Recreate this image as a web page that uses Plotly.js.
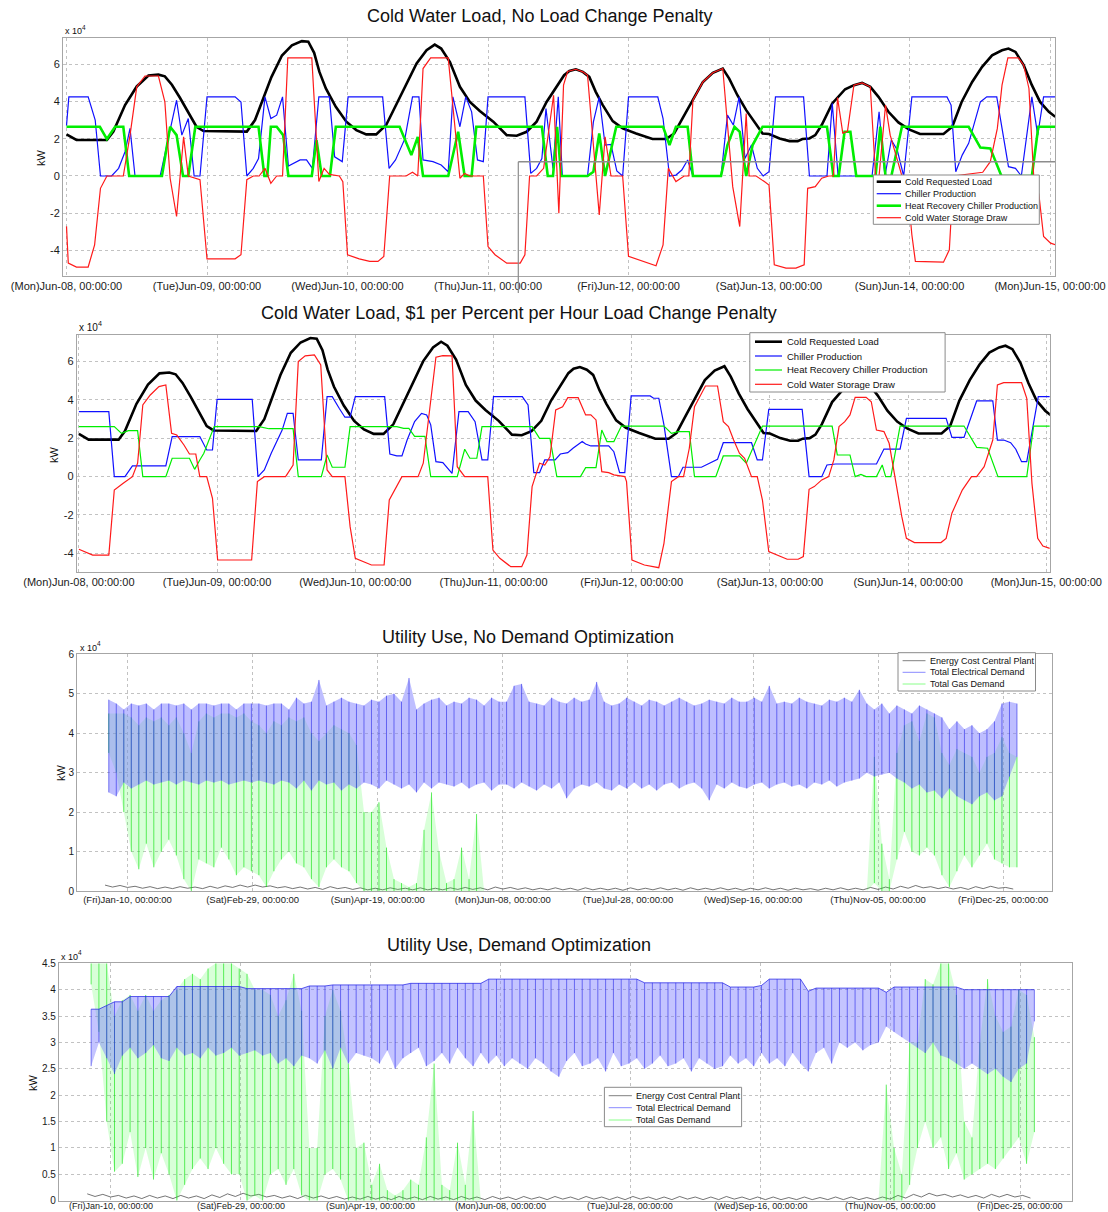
<!DOCTYPE html>
<html><head><meta charset="utf-8">
<script src="https://cdn.plot.ly/plotly-3.0.1.min.js"></script>
<style>html,body{margin:0;padding:0;background:#fff}#chart{width:1108px;height:1212px}</style>
</head><body><div id="chart"></div>
<script>
// ---------- tick labels ----------
const hourTicks = [0,24,48,72,96,120,144,168];
const hourTickLabels = ['(Mon)Jun-08, 00:00:00','(Tue)Jun-09, 00:00:00','(Wed)Jun-10, 00:00:00','(Thu)Jun-11, 00:00:00','(Fri)Jun-12, 00:00:00','(Sat)Jun-13, 00:00:00','(Sun)Jun-14, 00:00:00','(Mon)Jun-15, 00:00:00'];
const dayTicks = [10,60,110,160,210,260,310,360];
const dayTickLabels = ['(Fri)Jan-10, 00:00:00','(Sat)Feb-29, 00:00:00','(Sun)Apr-19, 00:00:00','(Mon)Jun-08, 00:00:00','(Tue)Jul-28, 00:00:00','(Wed)Sep-16, 00:00:00','(Thu)Nov-05, 00:00:00','(Fri)Dec-25, 00:00:00'];

// ---------- week data: [hour since Jun-08 00:00, kW x 1e4] ----------
const coldLoad = [[0,2.23],[1.7,1.93],[6.9,1.93],[8.0,2.38],[10.0,3.80],[12.0,4.80],[14.0,5.39],[15.7,5.43],[16.8,5.34],[18.0,4.89],[19.4,4.18],[20.8,3.38],[22.2,2.64],[23.4,2.41],[30.8,2.38],[32.2,3.00],[33.6,4.16],[35.0,5.30],[36.8,6.46],[38.5,7.00],[40.2,7.23],[41.3,7.20],[42.3,6.60],[43.2,5.58],[44.3,4.69],[46.0,3.71],[47.8,2.91],[49.5,2.46],[51.2,2.23],[52.9,2.23],[54.6,2.73],[56.3,3.80],[58.0,4.87],[59.8,6.03],[61.5,6.74],[62.9,7.04],[64.0,6.83],[65.5,6.11],[67.2,4.78],[68.9,3.97],[70.6,3.48],[72.9,2.91],[75.2,2.19],[76.9,2.16],[78.6,2.37],[80.3,2.91],[82.0,3.97],[83.8,4.87],[85.0,5.40],[85.9,5.63],[87.0,5.72],[88.2,5.58],[89.3,5.31],[90.4,4.51],[91.6,3.80],[93.3,2.94],[95.0,2.55],[97.3,2.28],[100.1,1.98],[102.4,1.98],[103.8,2.28],[105.2,3.08],[107.0,4.06],[108.7,5.04],[110.4,5.53],[112.1,5.76],[113.2,5.22],[114.6,4.33],[116.1,3.53],[117.8,2.73],[118.9,2.28],[120.0,2.25],[121.8,2.01],[123.5,1.87],[124.9,1.87],[125.7,1.98],[126.9,2.01],[127.9,2.19],[129.0,2.73],[130.8,3.89],[131.9,4.28],[133.0,4.65],[134.5,4.87],[135.9,4.99],[137.3,4.78],[138.7,4.24],[140.4,3.44],[142.1,2.87],[143.9,2.50],[145.8,2.25],[149.8,2.25],[151.3,2.64],[152.9,3.97],[154.7,5.04],[156.4,5.85],[158.1,6.47],[159.8,6.74],[160.9,6.83],[162.1,6.65],[163.5,5.94],[164.9,4.87],[166.3,3.97],[167.8,3.44],[168.9,3.17]];

const chiller1 = [[0,2.7],[0.4,4.24],[3.7,4.24],[4.9,3.0],[5.8,0],[7.7,0],[8.9,0.41],[10.0,1.30],[10.85,2.55],[11.7,0],[16.0,0],[17.1,1.66],[18.8,4.06],[19.7,2.19],[20.8,3.08],[21.8,0],[22.8,0],[24.0,4.24],[28.8,4.24],[29.8,3.97],[30.8,0],[31.9,0.41],[32.8,0.94],[33.9,4.24],[34.9,3.08],[35.9,3.26],[36.9,4.24],[37.9,0.53],[39.9,0.86],[41.0,0.86],[42.0,0.41],[43.1,4.24],[44.9,4.24],[45.8,1.03],[47.1,0.77],[48.1,4.24],[54.0,4.24],[55.1,0.41],[56.2,0.86],[57.8,2.0],[59.1,4.24],[60.2,4.24],[60.9,0.86],[62.6,0.77],[64.0,0.59],[65.2,0.23],[66.0,4.24],[67.2,2.64],[68.2,4.24],[69.2,3.44],[70.2,0.86],[71.2,0.77],[72.0,4.24],[78.3,4.24],[79.3,0.14],[80.3,0.41],[81.2,0.94],[81.9,3.62],[83.1,0.41],[84.0,4.24],[84.7,0],[89.0,0],[90.0,2.9],[91.0,4.24],[92.0,1.66],[93.0,1.69],[94.0,0.27],[95.0,0],[96.0,4.24],[101.0,4.24],[101.9,3.08],[103.0,0],[104.1,0.05],[105.1,0.32],[106.1,0.86],[107.0,0],[111.8,0],[112.9,3.26],[113.9,2.73],[114.9,4.24],[115.9,0.94],[117.0,1.66],[118.0,0.41],[119.0,0],[120.0,0.23],[121.1,4.24],[125.9,4.24],[126.9,0],[129.9,0],[130.8,3.89],[131.8,0],[137.6,0],[138.8,3.44],[139.8,0],[140.9,1.93],[141.9,1.39],[143.0,0],[144.4,4.24],[150.4,4.24],[151.1,3.8],[151.9,0.23],[153.0,1.12],[154.1,1.75],[156.1,3.97],[157.2,4.24],[158.9,4.24],[160.9,0.5],[162.1,0.41],[163.1,0],[164.9,4.24],[165.9,2.19],[166.9,4.24],[168.9,4.24]];

const hrc1 = [[0,2.64],[5.7,2.64],[6.9,1.98],[8.3,2.64],[9.7,2.64],[10.7,0],[16.3,0],[17.7,2.64],[18.8,2.19],[19.9,0],[20.8,0],[22.0,2.64],[32.8,2.64],[33.8,0],[34.3,0],[34.9,2.64],[35.9,2.64],[37.0,2.19],[37.9,0],[41.9,0],[42.7,1.93],[43.6,0],[45.0,0],[46.0,2.64],[56.9,2.64],[58.9,1.12],[60.0,2.1],[60.9,0],[65.2,0],[66.9,2.37],[68.0,0],[69.2,0],[70.0,2.64],[81.2,2.64],[82.2,0],[83.1,0],[83.8,2.64],[84.5,0],[89.0,0],[90.0,0.23],[91.0,2.28],[92.0,0],[93.9,2.64],[101.9,2.64],[103.0,1.66],[104.1,2.64],[106.1,2.64],[107.0,0],[111.8,0],[112.9,1.66],[114.1,2.64],[115.0,2.37],[116.1,0],[117.2,1.66],[118.9,2.64],[129.9,2.64],[131.0,0],[131.9,0],[132.9,2.37],[133.9,2.37],[134.9,0],[138.2,0],[139.0,2.64],[139.9,0],[140.9,0],[142.7,2.64],[154.1,2.64],[156.1,1.52],[157.8,1.48],[159.7,0],[164.9,0],[166.0,2.64],[168.9,2.64]];

const storage1 = [[0,-2.7],[0.3,-4.67],[1.7,-4.88],[3.7,-4.88],[4.8,-3.69],[5.8,-0.66],[6.9,0],[9.7,0],[10.85,2.19],[12.0,4.78],[13.4,5.36],[15.7,5.36],[16.8,3.97],[17.7,-0.12],[18.8,-2.17],[20.0,2.1],[20.8,0],[22.8,-0.2],[24.0,-4.44],[28.8,-4.44],[29.8,-4.22],[30.8,-0.2],[31.9,0],[32.9,0],[33.9,0.41],[34.9,-0.39],[35.9,0],[36.9,0],[37.8,6.33],[41.9,6.33],[43.1,-0.3],[44.0,0.41],[44.9,0.09],[46.6,0],[47.2,-0.3],[48.0,-4.22],[50.0,-4.44],[51.8,-4.58],[53.2,-4.58],[54.2,-4.31],[55.2,0],[58.0,0],[59.1,0.2],[60.0,0],[60.9,5.76],[62.2,6.33],[65.2,6.33],[66.0,3.71],[67.2,-0.12],[68.0,0.14],[68.9,0],[71.2,0],[72.0,-3.78],[73.2,-4.22],[75.2,-4.67],[77.5,-4.67],[78.3,-4.22],[79.1,0],[80.3,0],[81.5,0.41],[83.2,4.33],[84.1,-2.0],[84.9,4.87],[85.6,5.6],[87.0,5.72],[88.2,5.58],[89.0,5.4],[91.0,-2.09],[92.0,2.1],[93.0,0],[95.0,0],[96.0,-4.31],[98.4,-4.58],[100.7,-4.81],[101.9,-3.69],[102.8,0.41],[104.1,-0.3],[105.5,0],[106.3,0],[107.0,4.06],[108.7,5.04],[110.4,5.53],[112.1,5.76],[112.9,2.55],[113.8,-0.57],[115.0,-2.71],[116.1,3.35],[116.6,0],[117.8,0],[119.2,-0.3],[120.0,-0.48],[120.9,-4.76],[122.9,-4.94],[124.6,-4.94],[126.0,-4.76],[126.6,-0.66],[127.9,-0.57],[129.0,-0.12],[130.2,0],[131.0,0],[131.7,4.2],[132.6,2.3],[133.4,2.4],[134.5,4.87],[135.9,4.99],[137.3,4.78],[138.2,0],[138.8,0],[139.9,3.8],[140.7,2.19],[142.7,0],[143.5,0],[144.4,-3.15],[145.0,-4.58],[149.8,-4.62],[150.8,-3.96],[151.5,0],[156.5,0.2],[157.8,0.77],[159.0,2.55],[159.8,4.87],[160.8,6.33],[162.6,6.33],[163.5,5.94],[164.4,4.69],[165.2,0.05],[166.1,-1.0],[166.9,-3.24],[168.1,-3.6],[168.9,-3.69]];

const chiller2 = [[0,3.39],[5.2,3.39],[6.15,0],[8.0,0],[9.3,0.56],[15.1,0.56],[16.2,2.09],[21.0,2.09],[22.2,1.39],[23.2,1.39],[24.0,4.03],[30.1,4.03],[31.1,0],[32.2,0.35],[33.4,1.22],[35.3,2.43],[36.2,3.30],[37.2,3.30],[38.1,0.87],[42.1,0.87],[43.1,4.17],[44.0,4.17],[45.2,3.57],[46.2,3.10],[47.1,3.10],[48.0,4.17],[53.1,4.17],[54.0,1.18],[55.2,1.08],[56.1,1.08],[57.0,1.91],[58.3,2.87],[59.5,3.30],[60.4,3.22],[61.1,2.70],[62.0,0.78],[63.2,0.73],[64.8,0.17],[66.0,3.39],[67.6,3.39],[68.8,2.87],[70.0,0.87],[71.0,0.87],[72.0,4.17],[77.0,4.17],[78.0,3.74],[79.0,0.21],[80.0,0.21],[80.9,0.87],[82.7,0.87],[83.6,1.18],[84.9,1.25],[85.8,1.48],[87.4,1.83],[88.0,1.70],[88.9,1.60],[92.0,1.60],[92.9,1.30],[93.9,0.21],[94.8,0.21],[95.9,4.21],[99.2,4.21],[99.8,4.09],[100.7,4.09],[101.6,2.70],[102.9,0],[104.1,0],[104.9,0.49],[108.1,0.49],[110.3,0.83],[110.9,0.90],[111.9,1.77],[116.8,1.77],[117.8,0.87],[118.7,0.87],[119.8,3.51],[125.6,3.51],[126.8,0],[129.0,0],[129.9,0.61],[131.4,0.66],[138.5,0.66],[139.8,1.44],[142.6,1.44],[143.7,3.04],[150.6,3.04],[151.6,2.05],[153.7,2.05],[155.9,3.95],[158.7,3.95],[159.5,1.91],[160.6,1.91],[161.8,1.77],[162.7,1.43],[163.7,0.78],[164.6,0.78],[165.7,2.61],[166.6,4.17],[168.6,4.17]];

const hrc2 = [[0,2.61],[6.15,2.61],[7.4,2.26],[8.6,2.40],[10.2,2.40],[11.1,0],[15.1,0],[16.2,0.96],[19.2,0.96],[20.1,0.38],[21.0,0.87],[21.7,1.22],[23.5,2.61],[31.3,2.61],[33.0,2.50],[37.2,2.50],[38.1,0],[42.1,0],[43.1,1.13],[44.0,0.49],[46.2,0.49],[47.1,2.61],[55.2,2.61],[56.4,2.52],[57.3,2.52],[58.3,2.10],[60.1,2.10],[61.1,0],[65.7,0],[67.0,1.43],[67.9,0.96],[69.1,0.96],[70.0,2.61],[78.7,2.61],[80.0,2.0],[81.8,2.0],[83.0,0],[87.1,0],[88.0,0.47],[89.8,0.47],[90.8,2.43],[91.7,1.83],[92.9,1.83],[94.2,2.64],[101.6,2.64],[102.9,2.26],[104.1,2.35],[106.0,2.35],[106.9,0],[110.6,0],[111.9,1.08],[114.7,1.08],[115.9,0.70],[117.1,1.57],[118.7,2.64],[130.8,2.64],[131.7,1.13],[133.9,1.13],[134.8,0],[135.8,0.12],[136.7,0],[138.5,0],[139.5,0.61],[140.1,0],[141.0,0],[142.6,2.64],[153.7,2.64],[155.9,1.53],[157.8,1.48],[159.6,0],[164.6,0],[165.8,2.64],[168.6,2.64]];

const storage2 = [[0,-3.79],[2.4,-4.09],[5.2,-4.09],[6.15,-0.70],[7.7,-0.35],[9.3,0],[10.2,0.70],[11.1,3.74],[12.4,4.26],[13.9,4.70],[15.1,4.78],[16.1,2.26],[17.0,2.17],[18.25,1.65],[19.2,1.18],[20.3,1.18],[21.0,0],[22.2,0],[23.2,-1.13],[24.1,-4.35],[30.0,-4.35],[31.0,-0.26],[32.2,0],[35.9,0],[37.2,0.61],[38.1,6.0],[39.3,6.30],[40.9,6.35],[42.0,5.83],[43.1,0.35],[44.0,0],[46.2,0],[47.1,-2.61],[48.0,-4.26],[50.8,-4.61],[53.0,-4.61],[53.9,-1.22],[55.2,-0.52],[56.1,0],[58.9,0],[59.8,0.70],[62.0,6.23],[63.2,6.31],[64.8,6.30],[65.7,0.52],[67.0,0],[71.0,0],[71.9,-3.83],[73.1,-4.26],[75.0,-4.70],[76.9,-4.70],[77.8,-4.09],[78.7,-0.52],[80.0,0.70],[80.9,0.61],[81.8,1.04],[82.8,3.48],[84.0,3.65],[84.9,4.12],[86.7,4.12],[88.0,3.22],[88.9,3.22],[89.8,2.96],[90.8,0.26],[92.0,0.21],[92.9,0.09],[94.8,0],[95.1,-0.26],[96.05,-4.35],[98.2,-4.61],[100.7,-4.75],[101.6,-3.48],[102.9,-0.26],[104.1,0],[105.0,0],[106.0,1.48],[106.9,3.65],[108.8,4.73],[110.9,4.73],[111.9,2.87],[112.8,2.61],[113.7,1.91],[114.7,1.22],[115.6,0.96],[116.8,0],[117.8,0],[118.7,-1.22],[119.8,-3.91],[123.0,-4.31],[124.9,-4.31],[125.8,-4.17],[126.8,-0.66],[127.7,-0.52],[129.0,-0.17],[130.2,0],[131.1,0.87],[132.0,2.61],[133.0,2.87],[133.9,3.22],[134.8,4.14],[136.7,4.14],[137.6,3.91],[138.5,2.43],[139.8,2.35],[140.7,1.74],[142.0,-0.52],[142.9,-2.09],[143.7,-3.22],[145.1,-3.44],[149.7,-3.44],[150.6,-3.22],[151.6,-1.91],[153.4,-0.70],[155.0,0],[155.9,0],[157.2,0.52],[158.1,1.30],[158.7,1.91],[159.5,4.78],[160.6,4.90],[163.7,4.90],[164.6,4.09],[165.5,-0.35],[166.5,-3.22],[167.4,-3.62],[168.6,-3.74]];

// ---------- year data: 3-day bins (max, min) starting day 1, kW x 1e4 ----------
const elec3Hi = [4.85,4.75,4.6,4.75,4.7,4.75,4.6,4.75,4.75,4.7, 4.75,4.6,4.75,4.75,4.7,4.75,4.75,4.6,4.75,4.75, 4.75,4.7,4.75,4.75,4.6,4.9,4.75,4.8,5.35,4.7, 4.8,4.9,4.8,4.75,4.7,4.85,4.8,4.95,5.0,4.8, 5.4,4.6,4.75,4.85,4.9,4.7,4.8,4.75,4.9,4.85, 4.7,4.9,4.8,4.8,5.2,5.25,4.8,4.75,4.7,4.9, 4.8,4.75,4.9,4.8,4.85,5.3,4.8,4.7,4.75,4.9, 4.8,4.7,4.85,4.8,4.7,4.8,4.9,4.8,4.7,4.75, 4.85,4.8,4.75,4.9,4.8,4.8,4.9,4.8,5.2,4.75, 4.8,4.75,4.9,4.8,4.75,4.7,4.85,4.8,4.9,4.8, 5.1,4.75,4.6,4.75,4.5,4.7,4.6,4.5,4.7,4.6, 4.5,4.4,4.1,4.3,4.1,4.2,4.0,4.1,4.3,4.75,4.8,4.75];
const elec3Lo = [2.5,2.4,2.75,2.6,2.7,2.8,2.7,2.75,2.8,2.7, 2.8,2.75,2.7,2.8,2.75,2.8,2.7,2.75,2.8,2.75, 2.8,2.75,2.7,2.8,2.75,2.6,2.8,2.55,2.8,2.7, 2.75,2.55,2.7,2.6,2.75,2.7,2.6,2.8,2.7,2.6, 2.7,2.5,2.75,2.6,2.75,2.7,2.65,2.75,2.6,2.7, 2.75,2.55,2.7,2.7,2.6,2.75,2.65,2.55,2.7,2.6, 2.75,2.35,2.6,2.7,2.65,2.75,2.6,2.55,2.7,2.6, 2.75,2.6,2.7,2.55,2.7,2.75,2.6,2.7,2.75,2.6, 2.3,2.7,2.6,2.75,2.65,2.6,2.7,2.75,2.6,2.7, 2.75,2.65,2.7,2.6,2.75,2.7,2.8,2.65,2.75,2.8, 2.85,3.0,2.9,2.95,3.0,2.85,2.75,2.6,2.7,2.5, 2.55,2.35,2.6,2.4,2.3,2.2,2.4,2.5,2.3,2.4,2.9,3.4];
const gas3Hi = [4.5,4.5,4.5,4.4,4.2,4.4,4.3,4.4,4.2,4.4, 4.0,3.5,4.3,4.5,4.4,4.5,4.5,4.4,4.5,4.3, 4.2,4.0,4.3,4.2,4.4,4.3,4.4,4.0,3.8,4.0, 4.2,4.1,4.0,3.7,2.0,2.0,2.25,1.1,0.3,0.2, 0.1,0.2,1.55,2.5,1.0,0.2,0.3,1.1,0.3,1.95, 0,0,0,0,0,0,0,0,0,0, 0,0,0,0,0,0,0,0,0,0, 0,0,0,0,0,0,0,0,0,0, 0,0,0,0,0,0,0,0,0,0, 0,0,0,0,0,0,0,0,0,0, 0,0,3.4,1.2,0.3,3.5,4.2,4.3,3.8,4.5, 4.4,3.5,3.2,3.6,3.5,3.4,3.0,3.4,3.5,3.9,3.5,3.4];
const gas3Lo = [3.5,3.0,2.0,1.0,0.55,1.2,0.6,1.0,1.3,0.9, 0.3,0.0,0.8,0.7,0.6,1.1,0.8,0.4,0.6,0.5, 0.4,0.1,0.5,0.8,1.0,0.7,0.6,0.3,0.1,0.6, 0.8,0.6,0.5,0.2,0,0,0,0,0,0, 0,0,0,0,0,0,0,0,0,0, 0,0,0,0,0,0,0,0,0,0, 0,0,0,0,0,0,0,0,0,0, 0,0,0,0,0,0,0,0,0,0, 0,0,0,0,0,0,0,0,0,0, 0,0,0,0,0,0,0,0,0,0, 0,0,0.2,0,0,0.8,1.5,1.0,0.9,1.1, 0.9,0.4,0.1,0.5,0.9,0.6,0.9,1.2,0.8,0.7,0.6,0.6];
const elec4Hi = [3.63,3.63,3.7,3.77,3.77,3.87,3.87,3.87,3.87,3.87, 3.87,4.06,4.06,4.06,4.06,4.06,4.06,4.06,4.06,4.06, 4.02,4.02,4.02,4.02,4.02,4.02,4.02,4.02,4.07,4.07, 4.07,4.09,4.09,4.09,4.09,4.09,4.09,4.09,4.09,4.09, 4.09,4.12,4.12,4.12,4.12,4.12,4.12,4.12,4.12,4.12, 4.12,4.2,4.2,4.2,4.2,4.2,4.2,4.2,4.2,4.2, 4.2,4.2,4.2,4.2,4.2,4.2,4.2,4.2,4.2,4.2, 4.2,4.13,4.13,4.13,4.13,4.13,4.13,4.13,4.13,4.13, 4.13,4.13,4.05,4.05,4.05,4.05,4.08,4.2,4.2,4.2, 4.2,4.2,3.97,4.03,4.03,4.03,4.03,4.03,4.03,4.03, 4.03,4.03,3.95,4.05,4.05,4.05,4.05,4.05,4.05,4.05, 4.05,4.05,4.0,4.0,4.0,4.0,4.0,4.0,4.0,4.0,4.0,4.0];
const elec4Lo = [2.55,3.0,2.7,2.4,2.75,2.9,2.7,2.8,2.95,2.7, 2.65,2.9,2.75,2.8,2.7,2.9,2.75,2.8,2.9,2.75, 2.8,2.85,2.75,2.8,2.6,2.7,2.55,2.75,2.7,2.6, 2.85,2.5,2.9,2.6,2.8,2.75,2.7,2.6,2.85,2.5, 2.7,2.8,2.9,2.55,2.65,2.8,2.6,2.9,2.7,2.55, 2.8,2.6,2.75,2.55,2.7,2.6,2.5,2.7,2.6,2.45, 2.35,2.65,2.8,2.55,2.6,2.7,2.45,2.8,2.55,2.6, 2.7,2.5,2.6,2.75,2.55,2.6,2.7,2.45,2.7,2.6, 2.5,2.55,2.75,2.6,2.7,2.55,2.8,2.6,2.7,2.55, 2.8,2.6,2.45,2.8,2.9,2.6,3.0,2.9,3.0,2.85, 2.95,3.0,3.3,3.2,3.1,3.0,2.9,2.8,3.0,2.75, 2.7,2.6,2.5,2.6,2.5,2.4,2.5,2.35,2.25,2.5,2.6,3.4];
const gas4Hi = [4.5,4.5,4.5,3.5,3.8,3.9,3.6,3.9,3.6,3.8, 3.9,4.0,4.2,4.3,4.2,4.4,4.5,4.5,4.5,4.4, 4.3,4.0,4.0,3.9,3.5,3.8,4.3,3.6,1.0,1.0, 3.5,4.0,3.6,2.6,1.0,1.1,0.3,0.7,0.2,0.1, 0.2,0.4,0.3,1.2,2.6,0.3,0.2,1.1,0.3,1.7, 0,0,0,0,0,0,0,0,0,0, 0,0,0,0,0,0,0,0,0,0, 0,0,0,0,0,0,0,0,0,0, 0,0,0,0,0,0,0,0,0,0, 0,0,0,0,0,0,0,0,0,0, 0,0,2.2,1.0,0.5,3.0,3.0,4.2,4.1,4.5, 4.5,3.9,1.5,1.2,3.0,4.2,3.5,3.2,3.3,4.0,3.9,3.1];
const gas4Lo = [4.1,3.2,1.5,0.55,0.7,1.3,0.45,1.0,0.4,0.9, 0.5,0.0,0.3,0.6,0.8,0.6,1.0,0.7,0.5,0.5, 0.0,0.1,0.0,0.5,0.6,0.3,0.6,0.1,0,0, 0.5,0.6,0.4,0,0,0,0,0,0,0, 0,0,0,0,0,0,0,0,0,0, 0,0,0,0,0,0,0,0,0,0, 0,0,0,0,0,0,0,0,0,0, 0,0,0,0,0,0,0,0,0,0, 0,0,0,0,0,0,0,0,0,0, 0,0,0,0,0,0,0,0,0,0, 0,0,0,0,0,0.3,1.0,1.5,1.0,1.2, 0.6,0.9,0.4,0.5,0.6,0.7,0.6,0.8,1.0,1.2,0.7,1.3];
// energy cost: 6-day bins (max, min)
const cost3Hi = [0.15,0.14,0.12,0.11,0.10,0.11,0.10,0.12,0.13,0.15, 0.15,0.13,0.11,0.10,0.09,0.11,0.09,0.08,0.07,0.08, 0.07,0.08,0.07,0.08,0.09,0.08,0.10,0.09,0.08,0.07, 0.08,0.07,0.08,0.07,0.07,0.08,0.07,0.08,0.07,0.08, 0.07,0.08,0.07,0.07,0.08,0.07,0.07,0.06,0.07,0.08, 0.07,0.09,0.10,0.12,0.14,0.11,0.10,0.09,0.11,0.12,0.09];
const cost3Lo = [0.10,0.09,0.07,0.06,0.06,0.07,0.06,0.07,0.09,0.10, 0.10,0.08,0.06,0.05,0.04,0.06,0.04,0.03,0.03,0.04, 0.03,0.03,0.03,0.04,0.04,0.03,0.05,0.04,0.03,0.03, 0.03,0.02,0.03,0.03,0.02,0.03,0.03,0.03,0.02,0.03, 0.03,0.03,0.02,0.03,0.03,0.02,0.03,0.02,0.03,0.03, 0.03,0.04,0.05,0.07,0.08,0.06,0.05,0.04,0.06,0.07,0.05];
const cost4Hi = [0.13,0.12,0.10,0.09,0.10,0.09,0.10,0.09,0.11,0.13, 0.14,0.12,0.10,0.09,0.10,0.09,0.08,0.07,0.08,0.07, 0.08,0.07,0.08,0.07,0.08,0.07,0.08,0.07,0.08,0.07, 0.08,0.07,0.08,0.07,0.07,0.08,0.07,0.07,0.08,0.07, 0.07,0.08,0.07,0.07,0.07,0.06,0.07,0.06,0.07,0.07, 0.06,0.07,0.10,0.12,0.14,0.12,0.11,0.10,0.12,0.12,0.10];
const cost4Lo = [0.08,0.07,0.05,0.04,0.05,0.04,0.05,0.04,0.06,0.08, 0.09,0.07,0.05,0.04,0.05,0.04,0.03,0.03,0.03,0.02, 0.03,0.02,0.03,0.02,0.03,0.02,0.03,0.02,0.03,0.02, 0.03,0.02,0.03,0.02,0.02,0.03,0.02,0.02,0.03,0.02, 0.02,0.03,0.02,0.02,0.02,0.02,0.02,0.02,0.02,0.02, 0.02,0.03,0.05,0.07,0.09,0.07,0.06,0.05,0.07,0.07,0.05];

// ---------- helpers ----------
const W = 1108, H = 1212;
const px = x => x / W, py = y => 1 - y / H;
const FONT = 'Liberation Sans, Arial, Helvetica, sans-serif';
const C = {black:'#000000', blue:'#1010ff', green:'#00ee00', red:'#ff1a1a'};

function lineTrace(pairs, xa, ya, color, width, name){
  return {x: pairs.map(p=>p[0]), y: pairs.map(p=>p[1]), xaxis:xa, yaxis:ya, mode:'lines', name:name,
          line:{color:color, width:width}, hoverinfo:'skip'};
}
// hourly values summarised per bin: light fill between min and max, plus a vertical stroke per bin
function bandTraces(hi, lo, step, xa, ya, o){
  const c = hi.map((_,k)=>1+step*k+step/2);
  const t = [];
  t.push({x:c, y:lo, xaxis:xa, yaxis:ya, mode:'lines', line:{width:0, color:o.fill}, hoverinfo:'skip'});
  t.push({x:c, y:hi, xaxis:xa, yaxis:ya, mode:'lines', fill:'tonexty', fillcolor:o.fill,
          line:{width:o.edgeWidth||0, color:o.edge||o.fill}, hoverinfo:'skip'});
  const sx = [], sy = [];
  c.forEach((d,k)=>{ sx.push(d, d, null); sy.push(hi[k], lo[k], null); });
  t.push({x:sx, y:sy, xaxis:xa, yaxis:ya, mode:'lines', name:o.name, connectgaps:false,
          line:{width:o.width, color:o.color}, hoverinfo:'skip'});
  return t;
}
function zigTrace(hi, lo, step, xa, ya, color, width, name){
  const zx = [], zy = [];
  hi.forEach((v,k)=>{ const d = 1+step*k; zx.push(d, d+step/2); zy.push(v, lo[k]); });
  return {x:zx, y:zy, xaxis:xa, yaxis:ya, mode:'lines', name:name, line:{width:width, color:color}, hoverinfo:'skip'};
}

const traces = [
  lineTrace(coldLoad,'x','y',C.black,2.6,'Cold Requested Load'),
  lineTrace(chiller1,'x','y',C.blue,1.2,'Chiller Production'),
  lineTrace(hrc1,'x','y',C.green,2.6,'Heat Recovery Chiller Production'),
  lineTrace(storage1,'x','y',C.red,1.2,'Cold Water Storage Draw'),
  lineTrace(coldLoad,'x2','y2',C.black,2.6,'Cold Requested Load'),
  lineTrace(chiller2,'x2','y2',C.blue,1.2,'Chiller Production'),
  lineTrace(hrc2,'x2','y2',C.green,1.2,'Heat Recovery Chiller Production'),
  lineTrace(storage2,'x2','y2',C.red,1.2,'Cold Water Storage Draw'),
  zigTrace(cost3Hi,cost3Lo,6,'x3','y3','rgba(50,50,50,0.85)',0.8,'Energy Cost Central Plant'),
  ...bandTraces(gas3Hi,gas3Lo,3,'x3','y3',{fill:'rgba(60,255,60,0.20)',color:'rgba(0,225,0,0.6)',width:1,name:'Total Gas Demand'}),
  ...bandTraces(elec3Hi,elec3Lo,3,'x3','y3',{fill:'rgba(125,125,255,0.50)',color:'rgba(25,25,230,0.55)',width:1,name:'Total Electrical Demand'}),
  zigTrace(cost4Hi,cost4Lo,6,'x4','y4','rgba(50,50,50,0.85)',0.8,'Energy Cost Central Plant'),
  ...bandTraces(gas4Hi,gas4Lo,3,'x4','y4',{fill:'rgba(60,255,60,0.20)',color:'rgba(0,225,0,0.6)',width:1,name:'Total Gas Demand'}),
  ...bandTraces(elec4Hi,elec4Lo,3,'x4','y4',{fill:'rgba(125,125,255,0.45)',edge:'rgba(40,40,230,0.85)',edgeWidth:0.9,color:'rgba(25,25,230,0.55)',width:1,name:'Total Electrical Demand'})
];

function axis(d, range, vals, text, size, anchor, showLabels){
  return {domain:d, range:range, anchor:anchor, tickmode:'array', tickvals:vals, ticktext:text,
    showticklabels: showLabels !== false,
    showline:true, mirror:true, linecolor:'#a6a6a6', linewidth:1, showgrid:true, gridcolor:'#c2c2c2', griddash:'dot',
    zeroline:false, ticks:'', tickfont:{family:FONT,size:size,color:'#1a1a1a'}, fixedrange:true};
}
const wkY = [-4,-2,0,2,4,6], wkYT = ['-4','-2','0','2','4','6'];

const annotations = [];
const shapes = [];
function ann(text, x, y, size, opts){
  annotations.push(Object.assign({text:text, x:px(x), y:py(y), xref:'paper', yref:'paper', showarrow:false,
    font:{family:FONT, size:size, color:'#111'}, xanchor:'center', yanchor:'middle'}, opts||{}));
}
// titles
ann('Cold Water Load, No Load Change Penalty', 539.5, 16, 18);
ann('Cold Water Load, $1 per Percent per Hour Load Change Penalty', 518.5, 313, 18);
ann('Utility Use, No Demand Optimization', 528, 637, 18);
ann('Utility Use, Demand Optimization', 518.5, 945, 18);
// axis multiplier labels ("x 10" with a raised exponent)
[[63,31,9],[76.8,327.5,10],[77.8,647.5,9],[58.9,956.5,9]].forEach(([x,y,s])=>{
  ann('x 10', x, y, s, {xanchor:'left'});
  ann('4', x + s*1.9, y - 4, s*0.72, {xanchor:'left'});
});
// y titles
ann('kW', 41, 158, 11, {textangle:-90});
ann('kW', 54, 455, 11, {textangle:-90});
ann('kW', 61, 773, 11, {textangle:-90});
ann('kW', 33, 1083, 11, {textangle:-90});
// bottom panel date labels, kept just inside the page edge
dayTicks.forEach((d,i)=>{
  annotations.push({text:dayTickLabels[i], x:d, xref:'x4', y:py(1205.5), yref:'paper', showarrow:false,
    font:{family:FONT, size:9, color:'#1a1a1a'}, xanchor:'center', yanchor:'middle'});
});

// stray frame lines visible in the first panel
shapes.push({type:'line', xref:'paper', yref:'paper', x0:px(518.3), y0:py(293), x1:px(518.3), y1:py(161.7), line:{color:'#8c8c8c', width:1.2}, layer:'above'});
shapes.push({type:'line', xref:'paper', yref:'paper', x0:px(518.3), y0:py(161.7), x1:px(1055), y1:py(161.7), line:{color:'#8c8c8c', width:1.5}, layer:'above'});

// legends (boxes with sample lines)
function legend(box, sx0, sx1, tx, rows, size){
  shapes.push({type:'rect', xref:'paper', yref:'paper', x0:px(box[0]), x1:px(box[1]), y0:py(box[2]), y1:py(box[3]),
    fillcolor:'#ffffff', line:{color:'#8a8a8a', width:1}, layer:'above'});
  rows.forEach(r=>{
    shapes.push({type:'line', xref:'paper', yref:'paper', x0:px(sx0), x1:px(sx1), y0:py(r.y), y1:py(r.y), line:{color:r.color, width:r.width}, layer:'above'});
    ann(r.label, tx, r.y, size, {xanchor:'left'});
  });
}
legend([873.3,1039.3,175,224.3], 876.7, 901, 903, [
  {y:181.7,label:'Cold Requested Load',color:C.black,width:2.6},
  {y:193.7,label:'Chiller Production',color:C.blue,width:1.2},
  {y:205.7,label:'Heat Recovery Chiller Production',color:C.green,width:2.6},
  {y:217.7,label:'Cold Water Storage Draw',color:C.red,width:1.2}], 9);
legend([749.8,945.1,332.7,392], 755, 782, 784.5, [
  {y:341.7,label:'Cold Requested Load',color:C.black,width:2.6},
  {y:356,label:'Chiller Production',color:C.blue,width:1.2},
  {y:370,label:'Heat Recovery Chiller Production',color:C.green,width:1.2},
  {y:384.3,label:'Cold Water Storage Draw',color:C.red,width:1.2}], 9.5);
legend([898,1035.5,652.7,691], 902.6, 925.5, 928, [
  {y:660.7,label:'Energy Cost Central Plant',color:'#808080',width:1},
  {y:672.3,label:'Total Electrical Demand',color:'#8a8aff',width:1},
  {y:684,label:'Total Gas Demand',color:'#8aff8a',width:1}], 9);
legend([604.4,741.6,1087.3,1126.7], 608.7, 631.9, 633.5, [
  {y:1095.7,label:'Energy Cost Central Plant',color:'#808080',width:1},
  {y:1107.7,label:'Total Electrical Demand',color:'#8a8aff',width:1},
  {y:1120,label:'Total Gas Demand',color:'#8aff8a',width:1}], 9);

const layout = {
  width:W, height:H, autosize:false, margin:{l:0,r:0,t:0,b:0}, showlegend:false,
  paper_bgcolor:'#ffffff', plot_bgcolor:'#ffffff', font:{family:FONT},
  xaxis:  axis([px(63),px(1055)], [-0.6,168.85], hourTicks, hourTickLabels, 11, 'y'),
  yaxis:  axis([py(276),py(38.3)], [-5.36,7.38], wkY, wkYT, 11, 'x'),
  xaxis2: axis([px(76.8),px(1049.8)], [-0.36,168.6], hourTicks, hourTickLabels, 11, 'y2'),
  yaxis2: axis([py(571.7),py(335)], [-4.96,7.39], wkY, wkYT, 11, 'x2'),
  xaxis3: axis([px(77),px(1052)], [-10.2,379.5], dayTicks, dayTickLabels, 9.5, 'y3'),
  yaxis3: axis([py(891),py(654.3)], [0,6], [0,1,2,3,4,5,6], ['0','1','2','3','4','5','6'], 10, 'x3'),
  xaxis4: axis([px(58.9),px(1072.3)], [-9.9,380.1], dayTicks, dayTickLabels, 9, 'y4', false),
  yaxis4: axis([py(1200.7),py(963.3)], [0,4.5], [0,0.5,1,1.5,2,2.5,3,3.5,4,4.5], ['0','0.5','1','1.5','2','2.5','3','3.5','4','4.5'], 10, 'x4'),
  annotations: annotations, shapes: shapes
};
Plotly.newPlot('chart', traces, layout, {displayModeBar:false, staticPlot:true});
</script></body></html>
